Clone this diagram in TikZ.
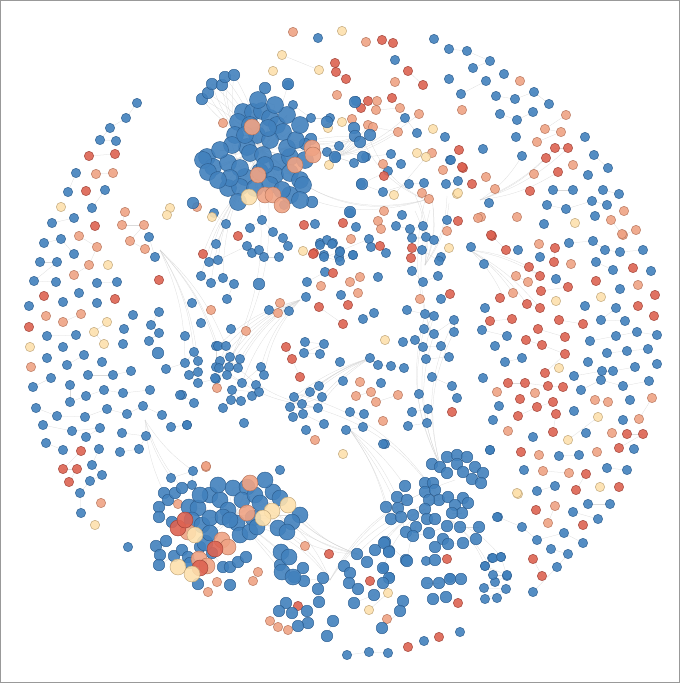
\documentclass[tikz,border=0pt]{standalone}
\definecolor{bF}{HTML}{4281BD}
\definecolor{bD}{HTML}{2C5D8F}
\definecolor{rF}{HTML}{DD6352}
\definecolor{rD}{HTML}{9E4035}
\definecolor{oF}{HTML}{EFA384}
\definecolor{oD}{HTML}{B5735A}
\definecolor{yF}{HTML}{FDE1AE}
\definecolor{yD}{HTML}{BFA477}
\tikzset{
  dotb/.style={fill=bF,draw=bD,line width=0.45pt,fill opacity=0.9},
  dotr/.style={fill=rF,draw=rD,line width=0.45pt,fill opacity=0.9},
  doto/.style={fill=oF,draw=oD,line width=0.45pt,fill opacity=0.9},
  doty/.style={fill=yF,draw=yD,line width=0.45pt,fill opacity=0.9},
  edgeln/.style={draw=black!18,line width=0.25pt,opacity=0.8},
}
% ---------- node lists (x/y in pixels, y downward) ----------
\def\lstBS{518/250,569/243,593/241,605/250,620/252,643/250,484/264,540/257,596/262,613/270,651/271,556/279,620/289,485/308,585/306,616/308,601/320,625/321,482/330,507/336,590/341,616/336,637/332,657/335,495/346,607/353,627/351,648/349,522/358,505/362,588/362,657/364,574/376,602/371,613/371,635/367,483/378,581/390,601/380,623/386,649/381,499/406,630/400,574/411,623/420,493/420,533/437,586/433,634/449,490/450,559/456,579/455,524/470,607/468,627/470,537/491,555/486,588/504,610/504,573/512,598/519,498/517,522/527,537/540,564/533,583/543,551/549,568/554,557/567,533/592,485/566,492/558,501/557,507/576,495/582,484/588,506/589,485/599,497/598,449/49,467/51,490/61,473/68,504/74,449/79,486/81,461/94,496/96,515/99,534/92,549/104,500/114,517/120,533/112,445/137,516/137,585/137,483/149,450/160,522/156,594/155,608/168,446/184,458/181,588/175,553/190,573/190,603/190,619/194,489/203,547/205,566/209,592/201,607/205,447/220,595/216,544/224,318/38,434/39,395/60,288/85,356/101,293/105,311/118,330/118,405/118,417/133,327/152,339/146,336/157,354/163,366/157,391/154,401/164,451/160,388/171,361/184,383/192,409/184,424/183,284/205,350/213,402/215,315/224,356/227,396/226,410/229,423/226,426/237,412/238,434/240,471/247,283/238,320/243,327/240,333/243,340/251,369/239,371/247,324/255,339/257,353/255,386/253,441/257,137/103,126/118,110/128,100/140,116/141,76/173,68/192,105/190,92/208,52/223,74/218,44/243,61/239,74/254,40/262,57/262,34/281,56/282,97/283,117/282,79/293,29/306,63/302,97/303,133/315,47/336,76/335,124/329,63/347,123/344,149/237,155/257,159/312,151/325,159/333,149/341,47/358,84/355,67/365,102/362,33/387,51/378,88/375,113/375,131/371,70/385,70/402,86/396,104/390,123/393,150/390,36/408,57/416,85/417,107/409,127/414,143/406,162/415,43/425,72/431,100/428,86/437,122/433,146/436,139/449,120/452,46/443,63/450,99/449,92/465,102/475,90/481,80/493,81/513,171/427,187/425,182/395,194/403,166/369,185/363,194/352,198/361,198/372,189/375,198/383,216/379,216/367,216/346,209/262,218/260,247/246,252/253,259/250,264/257,279/257,288/246,320/245,332/244,340/252,324/257,340/261,353/255,422/250,439/261,201/276,211/283,223/278,234/284,227/299,325/272,307/282,378/277,412/271,423/282,438/276,192/303,306/297,341/295,441/299,269/310,289/311,374/313,363/319,407/310,425/314,434/316,424/329,434/334,454/320,454/332,201/323,231/329,185/336,403/342,415/340,423/347,441/346,305/342,324/344,304/353,320/354,218/346,226/346,220/361,230/357,240/359,229/367,219/368,238/368,215/378,227/375,242/383,261/367,264/375,256/385,252/396,259/392,232/390,241/401,231/400,223/408,180/395,370/358,378/365,391/366,404/368,340/362,426/359,449/357,343/381,381/383,432/377,452/386,457/398,294/397,310/392,319/386,322/397,302/404,318/408,290/407,293/417,303/414,324/424,419/394,350/412,364/414,412/412,428/409,427/423,408/426,346/430,363/427,306/430,244/423,187/425,385/444,383/444,490/450,497/517,384/568,390/577,450/578,493/558,501/557,485/566,507/575,493/575,171/478,193/471,192/485,280/470,426/561,424/641,460/632,347/655,369/652,388/653,128/547,214/213,226/224,216/244,250/228,262/220,273/232}
\def\lstRS{492/236,506/250,555/248,554/262,633/268,529/267,540/276,596/281,541/291,568/287,500/298,655/295,527/304,540/308,638/306,490/321,512/319,559/320,583/324,654/316,538/329,565/337,526/340,542/345,565/354,545/373,508/383,525/383,548/386,563/387,520/399,553/402,537/407,518/416,556/414,553/432,627/434,643/434,619/448,521/452,586/474,576/490,619/487,536/510,583/525,533/559,542/576,555/148,568/148,459/150,546/158,463/168,558/172,472/184,530/191,458/221,491/235,382/40,393/43,335/63,336/72,346/79,408/71,423/85,368/101,361/108,392/98,384/176,462/167,304/225,343/223,380/246,314/253,412/248,89/156,115/154,86/191,95/226,44/296,115/299,29/327,159/280,81/451,63/469,77/469,69/482,203/254,313/254,411/258,333/273,348/305,450/294,319/307,343/324,286/347,292/359,300/377,452/412,447/559,298/606,329/554,370/581,458/603,439/637,408/647,238/236}
\def\lstOS{539/244,623/235,636/230,571/264,516/276,528/282,638/285,513/293,497/392,535/393,595/400,608/402,652/398,639/419,508/431,612/433,539/455,597/452,543/471,569/473,555/506,548/523,520/81,462/110,566/115,545/129,561/132,537/142,573/165,443/170,486/177,534/174,495/189,624/211,481/217,517/217,611/220,622/234,447/231,293/32,366/42,395/82,337/95,377/101,376/110,400/108,352/119,419/114,368/125,373/127,398/132,383/164,432/153,422/193,429/199,384/211,478/218,378/221,381/229,351/239,96/174,113/173,79/236,97/247,89/265,74/275,46/316,81/314,63/322,125/212,122/225,144/225,130/241,145/249,31/367,101/503,206/467,350/282,360/277,321/286,211/310,358/293,420/299,280/303,278/313,246/331,217/388,356/396,371/392,376/402,398/395,360/382,383/421,315/440,223/123,197/207,206/466,178/504,217/582,253/581,258/572,208/592,305/546,270/621,278/627,288/630,387/619}
\def\lstYS{556/301,601/297,559/368,598/417,568/440,518/494,600/487,457/194,575/223,342/31,282/55,319/70,342/122,433/129,329/165,417/153,426/157,394/195,458/193,303/251,449/248,273/71,328/128,212/217,61/207,108/265,107/322,94/332,104/344,30/347,170/208,167/215,95/525,385/340,343/454,517/493,388/593,369/610}
\def\lstBM{354/128,355/136,360/142,370/135,311/139,305/144,202/99,208/93,212/84,222/85,225/77,234/75,265/88,288/84,355/102,327/122,335/157,363/157,350/212,362/184,193/203,312/202,158/353,259/284,447/457,457/455,467/457,432/464,440/467,447/473,457/464,463/472,475/467,483/473,472/479,481/483,425/483,433/483,425/492,435/490,439/500,429/500,448/497,463/498,468/503,455/505,462/513,452/513,405/486,397/497,407/500,386/507,398/508,391/519,401/517,413/515,425/509,427/519,435/519,406/532,416/527,413/536,429/533,447/526,460/527,479/527,443/539,448/544,463/543,476/539,435/547,389/551,385/542,406/560,435/560,303/568,304/581,323/578,318/589,319/602,286/603,279/611,292/613,307/611,308/623,298/626,333/621,327/636,357/554,367/562,344/566,350/573,349/583,358/589,375/550,384/543,389/552,383/568,389/578,383/583,374/595,354/603,403/601,400/611,382/628,407/561,427/583,439/583,450/579,461/579,433/599,446/597,164/493,168/500,175/493,182/488,159/507,159/517,172/522,156/546,166/541,160/555,159/565,174/556,182/550,188/557,190/563,200/547,212/553,223/567,230/567,238/562,246/557,198/584,230/585,280/565,294/577}
\def\lstBLtop{243/112,253/112,262/111,238/122,270/118,277/125,287/115,283/132,235/135,257/135,270/140,247/147,207/157,213/167,203/160,208/172,228/163,250/153,263/155,278/162,290/157,287/148,245/177,260/172,275/175,290/173,300/180,228/188,240/187,290/195,303/185,238/202,265/165,232/145,240/168,268/128,270/185,255/188,230/178,250/125,296/140,258/100,275/105,300/125,305/160,220/150,245/135,282/190,300/200,218/180}
\def\lstBLbot{210/495,220/500,228/510,233/488,247/487,242/500,255/495,260/503,273/492,280/498,189/507,198/508,192/520,202/525,210/518,223/517,237/523,253/518,240/535,250/532,257/527,205/543,210/533,300/515,292/522,278/528,287/532,230/520,281/552,289/557,282/572,293/577,218/485,265/480,200/495}
\def\lstOL{252/127,295/165,258/175,265/195,273/195,282/205,312/148,313/155,250/483,247/513,188/532,222/540,228/547,199/559,207/566}
\def\lstRL{178/528,185/520,215/549,200/568}
\def\lstYL{249/197,272/511,288/505,263/518,195/535,178/567,192/574}
% ---------- helpers ----------
\newcommand\chainedges[2]{%
  \foreach \x/\y [remember=\x as \px (initially -999), remember=\y as \py (initially -999)] in #1 {%
    \pgfmathparse{(abs(\x-\px)<#2)&&(abs(\y-\py)<#2)}%
    \ifdim\pgfmathresult pt>0.5pt \draw[edgeln] (\px,\py) -- (\x,\y);\fi
  }}
\newcommand\fanedges[4]{\foreach \x/\y in {#1} {\draw[edgeln] (\x,\y) to[bend left=#4] (#2,#3);}}
\newcommand\hubedges[3]{\foreach \x/\y in #1 {\draw[edgeln] (\x,\y) -- (#2,#3);}}
\newcommand\dotlist[3]{\foreach \x/\y in #1 {\path[#2] (\x,\y) circle (#3);}}
\begin{document}
\begin{tikzpicture}[x=1pt,y=-1pt]
\useasboundingbox (0,0) rectangle (680,683);
\fill[white] (0,0) rectangle (680,683);
% ---------- connectors ----------
\chainedges{\lstBS}{30}
\chainedges{\lstRS}{30}
\chainedges{\lstOS}{30}
\chainedges{\lstYS}{40}
\chainedges{\lstBM}{22}
\chainedges{\lstBLtop}{24}
\chainedges{\lstBLbot}{24}
\hubedges{\lstBLtop}{262}{150}
\hubedges{\lstBLbot}{235}{515}
\fanedges{202/99,208/93,212/84,222/85,225/77,234/75,265/88,288/84}{258}{145}{12}
\fanedges{202/99,208/93,212/84,222/85,225/77,234/75}{235}{130}{-8}
\fanedges{311/139,305/144,327/152,339/146,336/157,354/163,366/157,355/136,360/142}{280}{150}{-10}
\fanedges{354/128,355/136,360/142,370/135,368/125,373/127,398/132,405/118,419/114}{335}{157}{12}
\fanedges{218/346,226/346,220/361,230/357,240/359,229/367,238/368,242/383,261/367,264/375}{300}{300}{15}
\fanedges{218/346,226/346,194/353,185/363,198/361,216/346}{160}{250}{-12}
\fanedges{294/397,310/392,319/386,322/397,302/404,318/408,290/407}{370}{358}{10}
\fanedges{405/486,397/497,386/507,391/519,406/532}{350}{430}{-10}
\fanedges{255/495,273/492,280/498,300/515,292/522,287/532}{357}{554}{-15}
\fanedges{375/550,384/543,389/552,407/561,357/554}{425}{509}{12}
\fanedges{209/262,218/260,201/276,211/283,223/278,203/254}{240}{190}{10}
\fanedges{415/195,420/202,415/211,431/193,433/208,447/196,449/203}{425}{265}{15}
\fanedges{425/314,434/316,424/329,434/334,454/320,454/332}{440}{465}{-20}
\fanedges{522/156,546/158,555/148,568/148,558/172}{480}{200}{12}
\fanedges{504/298,513/293,527/304,540/308,529/267,540/276}{470}{250}{-10}
\fanedges{171/478,193/471,164/493,182/488}{145}{420}{10}
\fanedges{262/150,255/140,270/130}{360}{135}{-25}
\fanedges{262/150,250/160,275/160}{425}{200}{-30}
\fanedges{230/515,245/500,215/520}{330}{580}{25}
\fanedges{440/500,430/490,455/480}{330}{580}{-20}
\fanedges{305/405,300/395}{440}{500}{20}
\fanedges{225/370,230/360}{305}{405}{-15}
\fanedges{360/135,370/140}{425}{200}{-20}
\fanedges{425/200,430/210}{430}{330}{-15}
\fanedges{262/150,250/150}{225}{370}{20}
\fanedges{493/575,485/566,501/557}{450}{520}{-15}
% ---------- dots ----------
\dotlist{\lstBS}{dotb}{4.7pt}
\dotlist{\lstRS}{dotr}{4.7pt}
\dotlist{\lstOS}{doto}{4.7pt}
\dotlist{\lstYS}{doty}{4.7pt}
\dotlist{\lstBM}{dotb}{5.8pt}
\dotlist{\lstBLtop}{dotb}{8.5pt}
\dotlist{\lstBLbot}{dotb}{8pt}
\dotlist{\lstOL}{doto}{8pt}
\dotlist{\lstRL}{dotr}{8pt}
\dotlist{\lstYL}{doty}{8pt}
% ---------- frame ----------
\draw[black!40,line width=1pt] (0.5,0.5) rectangle (679.5,682.5);
\end{tikzpicture}
\end{document}
